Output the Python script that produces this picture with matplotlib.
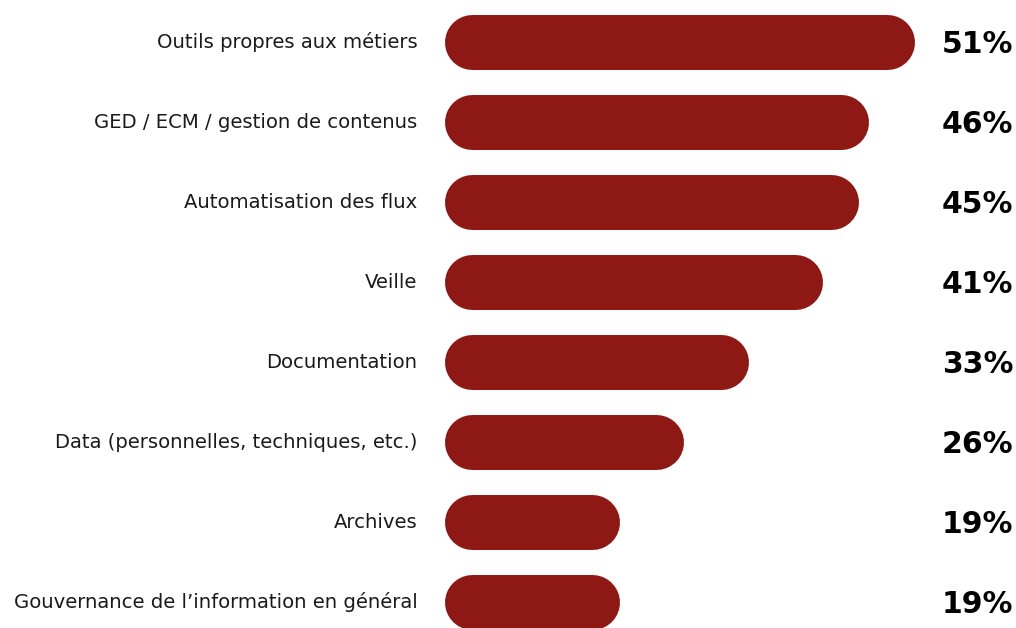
import matplotlib.pyplot as plt

categories = [
    "Outils propres aux métiers",
    "GED / ECM / gestion de contenus",
    "Automatisation des flux",
    "Veille",
    "Documentation",
    "Data (personnelles, techniques, etc.)",
    "Archives",
    "Gouvernance de l\u2019information en général",
]
values = [51, 46, 45, 41, 33, 26, 19, 19]

bar_color = "#8E1914"
dpi = 100
px_per_unit = 9.22          # pixels per percent
bar_h_px = 55
r = bar_h_px / 2 / px_per_unit   # cap radius in data units

fig = plt.figure(figsize=(10.16, 6.28), dpi=dpi)
ax = fig.add_axes([0, 0, 1, 1])
ax.set_xlim(-444 / px_per_unit, (1016 - 444) / px_per_unit)
ax.set_ylim((628 - 42) / 80, -42 / 80)
ax.axis("off")

lw_pt = bar_h_px * 72 / dpi
for i, (cat, v) in enumerate(zip(categories, values)):
    ax.plot([r, v - r], [i, i], color=bar_color, lw=lw_pt,
            solid_capstyle="round")
    ax.annotate(cat, xy=(0, i), xytext=(-19, 0), textcoords="offset points",
                ha="right", va="center", fontsize=14.1, family="DejaVu Sans",
                color="#1a1a1a")
    ax.text(54, i + 0.03, f"{v}%", ha="left", va="center", fontsize=21.5,
            family="DejaVu Sans", fontweight="bold", color="black")

fig.savefig("out.png", dpi=dpi)
